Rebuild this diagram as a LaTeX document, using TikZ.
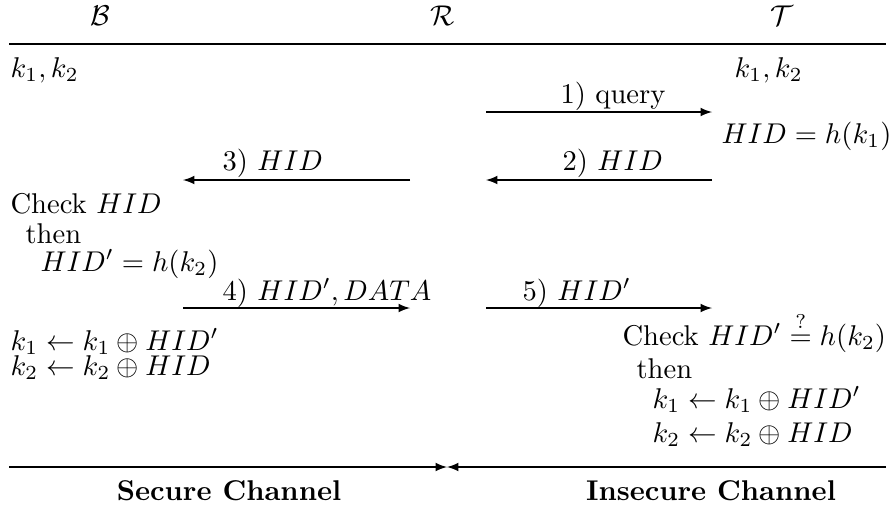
\documentclass[tikz,border=0pt]{standalone}
\usepackage{amsmath,amssymb}
\usetikzlibrary{arrows}
\begin{document}
\begin{tikzpicture}[x=0.35pt,y=-0.35pt,
  txt/.style={inner sep=0pt,anchor=base west},
  head/.style={inner sep=0pt,anchor=base},
  msg/.style={-latex,line width=0.4pt},
  rule/.style={line width=0.4pt}]
\useasboundingbox (0,0) rectangle (892,509);

% parties
\node[head] (B) at (100,25) {$\mathcal{B}$};
\node[head] (R) at (443,25) {$\mathcal{R}$};
\node[head] (T) at (782,25) {$\mathcal{T}$};
\coordinate (topL) at (9,44);
\coordinate (topR) at (886,44);
\draw[rule] (topL) -- (topR);

% initial secrets
\node[txt] (kB) at (10,77) {$k_1, k_2$};
\node[txt] (kT) at (734,77) {$k_1, k_2$};

% message 1
\coordinate (m1a) at (486,112);
\coordinate (m1b) at (712,112);
\draw[msg] (m1a) -- (m1b);
\node[txt] (l1) at (560,103) {1) query};

\node[txt] (hT) at (721,143) {$HID = h(k_1)$};

% messages 2 and 3
\coordinate (m2a) at (712,180);
\coordinate (m2b) at (486,180);
\draw[msg] (m2a) -- (m2b);
\node[txt] (l2) at (562,170) {2) $HID$};
\coordinate (m3a) at (410,180);
\coordinate (m3b) at (183,180);
\draw[msg] (m3a) -- (m3b);
\node[txt] (l3) at (222,170) {3) $HID$};

% back-end computation
\node[txt] (cB) at (10,213) {Check $HID$};
\node[txt] (tB) at (25,243) {then};
\node[txt] (hB) at (40,271) {$HID' = h(k_2)$};

% messages 4 and 5
\coordinate (m4a) at (183,308);
\coordinate (m4b) at (410,308);
\draw[msg] (m4a) -- (m4b);
\node[txt] (l4) at (222,300) {4) $HID', DATA$};
\coordinate (m5a) at (486,308);
\coordinate (m5b) at (712,308);
\draw[msg] (m5a) -- (m5b);
\node[txt] (l5) at (522,300) {5) $HID'$};

% key updates
\node[txt] (u1B) at (10,350) {$k_1 \leftarrow k_1 \oplus HID'$};
\node[txt] (u2B) at (10,375) {$k_2 \leftarrow k_2 \oplus HID$};

\node[txt] (cT) at (622,345) {Check $HID' \stackrel{?}{=} h(k_2)$};
\node[txt] (tT) at (636,378) {then};
\node[txt] (u1T) at (652,408) {$k_1 \leftarrow k_1 \oplus HID'$};
\node[txt] (u2T) at (652,442) {$k_2 \leftarrow k_2 \oplus HID$};

% channels
\coordinate (chL) at (9,467);
\coordinate (chM) at (447,467);
\coordinate (chR) at (886,467);
\draw[msg] (chL) -- (chM);
\draw[msg] (chR) -- (chM);
\node[head] (sec) at (229,500) {\textbf{Secure Channel}};
\node[head] (ins) at (711,500) {\textbf{Insecure Channel}};
\end{tikzpicture}
\end{document}
